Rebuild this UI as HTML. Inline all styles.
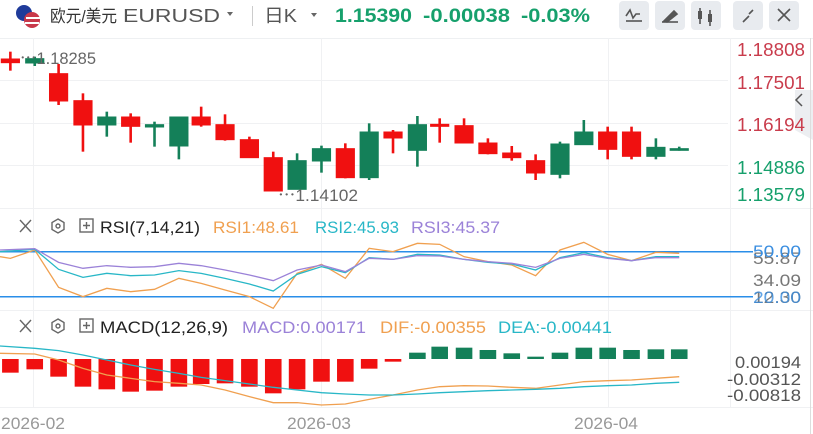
<!DOCTYPE html>
<html><head><meta charset="utf-8"><style>
body{margin:0;background:#fff;}
svg text{font-family:"Liberation Sans","Noto Sans CJK SC",sans-serif;}
</style></head><body>
<svg width="813" height="434" xmlns="http://www.w3.org/2000/svg" style="display:block">
<rect width="813" height="434" fill="#fff"/>
<!-- header -->
<circle cx="24" cy="13" r="8" fill="#1f3b9a"/>
<circle cx="32" cy="20" r="8" fill="#c8384a"/>
<rect x="26" y="17" width="14" height="2" fill="#fff"/><rect x="25" y="22" width="14" height="2" fill="#fff"/>
<text x="50" y="22" font-size="17" fill="#333" textLength="67" lengthAdjust="spacingAndGlyphs">欧元/美元</text>
<text x="123" y="22" font-size="18" fill="#555" textLength="97" lengthAdjust="spacingAndGlyphs">EURUSD</text>
<path d="M227 12 l6 0 l-3 4z" fill="#666"/>
<rect x="252" y="6" width="1" height="20" fill="#ccc"/>
<text x="264" y="22" font-size="18" fill="#555" textLength="33" lengthAdjust="spacingAndGlyphs">日K</text>
<path d="M311 13 l6 0 l-3 4z" fill="#666"/>
<text x="335" y="22" font-size="19" font-weight="bold" fill="#16a06c" textLength="77" lengthAdjust="spacingAndGlyphs">1.15390</text>
<text x="423" y="22" font-size="19" font-weight="bold" fill="#16a06c" textLength="87" lengthAdjust="spacingAndGlyphs">-0.00038</text>
<text x="521" y="22" font-size="19" font-weight="bold" fill="#16a06c" textLength="69" lengthAdjust="spacingAndGlyphs">-0.03%</text>
<g fill="#e8ebef">
<rect x="619" y="1" width="30" height="29" rx="4"/><rect x="655" y="1" width="30" height="29" rx="4"/><rect x="691" y="1" width="30" height="29" rx="4"/><rect x="733" y="1" width="30" height="29" rx="4"/><rect x="769" y="1" width="30" height="29" rx="4"/></g>
<g stroke="#555" stroke-width="1.6" fill="none">
<path d="M626 16 l4 -6 l3 8 l3 -4 l4 0"/><path d="M626 21 h16"/>
<path d="M664 21 l10 -10 l3 3 l-10 8z" fill="#555"/><path d="M662 22 h16"/>
<path d="M700 8 v16 M710 10 v16"/>
<path d="M743 22 l6 -6 M753 10 l-4 4"/>
<path d="M778 9 l12 12 M790 9 l-12 12"/></g>
<rect x="698" y="11" width="4" height="8" fill="#555"/><rect x="708" y="14" width="4" height="8" fill="#555"/>
<rect x="0" y="38" width="813" height="1" fill="#eef0f2"/>
<!-- grid -->
<g fill="#f0f1f3">
<rect x="0" y="80" width="728" height="1"/><rect x="0" y="123" width="728" height="1"/><rect x="0" y="165" width="728" height="1"/><rect x="0" y="208" width="813" height="1"/>
<rect x="33" y="38" width="1" height="370"/><rect x="321" y="38" width="1" height="370"/><rect x="608" y="38" width="1" height="370"/>
<rect x="0" y="310" width="813" height="1"/><rect x="0" y="407" width="813" height="1"/>
<rect x="730" y="38" width="1" height="370"/></g>
<path d="M813 90 l-18 0 l0 40 l18 10z" fill="#eceef1"/>
<path d="M802 94 l-6 6 l6 6" stroke="#555" stroke-width="1.5" fill="none"/>
<!-- price labels -->
<g font-size="18" fill="#c93c4c"><text x="737" y="56" textLength="68" lengthAdjust="spacingAndGlyphs">1.18808</text><text x="737" y="89" textLength="68" lengthAdjust="spacingAndGlyphs">1.17501</text><text x="737" y="131" textLength="68" lengthAdjust="spacingAndGlyphs">1.16194</text></g>
<g font-size="18" fill="#16a06c"><text x="737" y="174" textLength="68" lengthAdjust="spacingAndGlyphs">1.14886</text><text x="737" y="201" textLength="68" lengthAdjust="spacingAndGlyphs">1.13579</text></g>
<!-- candles -->
<g transform="scale(0.5185,0.33333)">
<g stroke="#f01010" stroke-width="5" fill="#f01010">
<line x1="20" y1="155" x2="20" y2="212"/><rect x="4" y="178" width="32" height="9"/>
<line x1="113" y1="192" x2="113" y2="315"/><rect x="97" y="222" width="32" height="80"/>
<line x1="160" y1="280" x2="160" y2="455"/><rect x="144" y="303" width="32" height="71"/>
<line x1="252" y1="340" x2="252" y2="428"/><rect x="236" y="352" width="32" height="26"/>
<line x1="388" y1="320" x2="388" y2="380"/><rect x="372" y="352" width="32" height="22"/>
<line x1="434" y1="343" x2="434" y2="422"/><rect x="418" y="375" width="32" height="43"/>
<line x1="481" y1="410" x2="481" y2="472"/><rect x="465" y="420" width="32" height="52"/>
<line x1="527" y1="455" x2="527" y2="572"/><rect x="511" y="474" width="32" height="98"/>
<line x1="666" y1="430" x2="666" y2="535"/><rect x="650" y="447" width="32" height="85"/>
<line x1="758" y1="390" x2="758" y2="460"/><rect x="742" y="397" width="32" height="16"/>
<line x1="848" y1="355" x2="848" y2="428"/><rect x="832" y="374" width="32" height="4"/>
<line x1="895" y1="355" x2="895" y2="428"/><rect x="879" y="378" width="32" height="50"/>
<line x1="941" y1="415" x2="941" y2="463"/><rect x="925" y="430" width="32" height="30"/>
<line x1="987" y1="438" x2="987" y2="482"/><rect x="971" y="460" width="32" height="12"/>
<line x1="1033" y1="463" x2="1033" y2="540"/><rect x="1017" y="483" width="32" height="35"/>
<line x1="1172" y1="380" x2="1172" y2="478"/><rect x="1156" y="397" width="32" height="50"/>
<line x1="1218" y1="380" x2="1218" y2="478"/><rect x="1202" y="397" width="32" height="71"/>
</g>
<g stroke="#148059" stroke-width="5" fill="#148059">
<line x1="67" y1="170" x2="67" y2="198"/><rect x="51" y="177" width="32" height="11"/>
<line x1="206" y1="335" x2="206" y2="410"/><rect x="190" y="352" width="32" height="22"/>
<line x1="298" y1="365" x2="298" y2="440"/><rect x="282" y="375" width="32" height="5"/>
<line x1="345" y1="352" x2="345" y2="478"/><rect x="329" y="352" width="32" height="85"/>
<line x1="573" y1="460" x2="573" y2="567"/><rect x="557" y="483" width="32" height="84"/>
<line x1="620" y1="437" x2="620" y2="518"/><rect x="604" y="447" width="32" height="35"/>
<line x1="712" y1="370" x2="712" y2="540"/><rect x="696" y="397" width="32" height="135"/>
<line x1="805" y1="348" x2="805" y2="500"/><rect x="789" y="375" width="32" height="75"/>
<line x1="1080" y1="425" x2="1080" y2="535"/><rect x="1064" y="433" width="32" height="89"/>
<line x1="1126" y1="360" x2="1126" y2="433"/><rect x="1110" y="397" width="32" height="36"/>
<line x1="1265" y1="415" x2="1265" y2="478"/><rect x="1249" y="443" width="32" height="25"/>
<line x1="1310" y1="440" x2="1310" y2="452"/><rect x="1294" y="447" width="32" height="3"/>
</g></g>
<text x="20" y="64" font-size="17" fill="#666" textLength="76" lengthAdjust="spacingAndGlyphs">⋯1.18285</text>
<text x="278" y="201" font-size="17" fill="#666" textLength="80" lengthAdjust="spacingAndGlyphs">⋯1.14102</text>
<!-- RSI header -->
<g stroke="#666" stroke-width="1.4" fill="none">
<path d="M20 220 l11 12 M31 220 l-11 12"/>
<path d="M58 219 l6 3.5 v7 l-6 3.5 l-6 -3.5 v-7z"/><circle cx="58" cy="226" r="2"/>
<rect x="80" y="219" width="13" height="13"/><path d="M86.5 222 v7 M83 225.5 h7"/>
<path d="M20 320 l11 12 M31 320 l-11 12"/>
<path d="M58 319 l6 3.5 v7 l-6 3.5 l-6 -3.5 v-7z"/><circle cx="58" cy="326" r="2"/>
<rect x="80" y="319" width="13" height="13"/><path d="M86.5 322 v7 M83 325.5 h7"/></g>
<g font-size="17" lengthAdjust="spacingAndGlyphs">
<text x="100" y="233" fill="#222" textLength="100" lengthAdjust="spacingAndGlyphs">RSI(7,14,21)</text>
<text x="213" y="233" fill="#f0a050" textLength="86" lengthAdjust="spacingAndGlyphs">RSI1:48.61</text>
<text x="315" y="233" fill="#28b7c7" textLength="84" lengthAdjust="spacingAndGlyphs">RSI2:45.93</text>
<text x="411" y="233" fill="#9b82d8" textLength="89" lengthAdjust="spacingAndGlyphs">RSI3:45.37</text>
<text x="100" y="333" fill="#222" textLength="128" lengthAdjust="spacingAndGlyphs">MACD(12,26,9)</text>
<text x="242" y="333" fill="#9b82d8" textLength="124" lengthAdjust="spacingAndGlyphs">MACD:0.00171</text>
<text x="380" y="333" fill="#f0a050" textLength="106" lengthAdjust="spacingAndGlyphs">DIF:-0.00355</text>
<text x="498" y="333" fill="#28b7c7" textLength="114" lengthAdjust="spacingAndGlyphs">DEA:-0.00441</text>
</g>
<rect x="0" y="251" width="753" height="1.5" fill="#2a8ee8"/>
<rect x="0" y="296" width="753" height="1.5" fill="#2a8ee8"/>
<g font-size="17"><text x="753" y="264" fill="#777" textLength="48" lengthAdjust="spacingAndGlyphs">55.87</text><text x="753" y="286" fill="#777" textLength="48" lengthAdjust="spacingAndGlyphs">34.09</text><text x="753" y="303" fill="#777" textLength="48" lengthAdjust="spacingAndGlyphs">12.30</text>
<text x="753" y="257" fill="#3a8ee0" textLength="48" lengthAdjust="spacingAndGlyphs">50.00</text><text x="753" y="303" fill="#3a8ee0" opacity="0.8" textLength="48" lengthAdjust="spacingAndGlyphs">20.00</text></g>
<!-- RSI + MACD lines -->
<g transform="translate(0,210) scale(0.5185,0.33333)" fill="none" stroke-width="1.3">
<polyline vector-effect="non-scaling-stroke" stroke="#f0a050" points="0,140 20,145 67,120 113,232 160,260 206,235 252,245 298,238 345,205 388,220 434,240 481,260 527,295 573,190 620,163 666,205 712,115 758,125 805,100 848,103 895,140 941,155 987,165 1033,197 1080,120 1126,97 1172,133 1218,152 1265,127 1310,130"/>
<polyline vector-effect="non-scaling-stroke" stroke="#28b7c7" points="0,125 67,118 113,178 160,202 206,190 252,197 298,195 345,182 388,190 434,205 481,222 527,243 573,193 620,170 666,188 712,143 758,148 805,133 848,135 895,148 941,157 987,162 1033,180 1080,143 1126,128 1172,143 1218,152 1265,140 1310,140"/>
<polyline vector-effect="non-scaling-stroke" stroke="#9b82d8" points="0,120 67,116 113,157 160,175 206,167 252,172 298,170 345,160 388,167 434,180 481,195 527,212 573,180 620,165 666,185 712,145 758,148 805,137 848,138 895,148 941,155 987,160 1033,172 1080,145 1126,133 1172,145 1218,152 1265,143 1310,143"/>
<g fill="#f01010" stroke="none">
<rect x="4" y="447" width="32" height="41"/><rect x="51" y="447" width="32" height="31"/><rect x="97" y="447" width="32" height="53"/><rect x="144" y="447" width="32" height="83"/><rect x="190" y="447" width="32" height="91"/><rect x="236" y="447" width="32" height="98"/><rect x="282" y="447" width="32" height="95"/><rect x="329" y="447" width="32" height="83"/><rect x="372" y="447" width="32" height="75"/><rect x="418" y="447" width="32" height="73"/><rect x="465" y="447" width="32" height="83"/><rect x="511" y="447" width="32" height="103"/><rect x="557" y="447" width="32" height="91"/><rect x="604" y="447" width="32" height="68"/><rect x="650" y="447" width="32" height="68"/><rect x="696" y="447" width="32" height="29"/><rect x="742" y="447" width="32" height="8"/></g>
<g fill="#148059" stroke="none">
<rect x="789" y="428" width="32" height="19"/><rect x="832" y="410" width="32" height="37"/><rect x="879" y="413" width="32" height="34"/><rect x="925" y="420" width="32" height="27"/><rect x="971" y="430" width="32" height="17"/><rect x="1017" y="440" width="32" height="7"/><rect x="1064" y="428" width="32" height="19"/><rect x="1110" y="413" width="32" height="34"/><rect x="1156" y="413" width="32" height="34"/><rect x="1202" y="420" width="32" height="27"/><rect x="1249" y="418" width="32" height="29"/><rect x="1294" y="418" width="32" height="29"/></g>
<polyline vector-effect="non-scaling-stroke" stroke="#f0a050" points="0,430 67,432 113,450 160,475 206,495 252,505 298,515 345,520 388,525 434,540 481,560 527,578 573,578 620,585 666,582 712,568 758,555 805,540 848,530 895,527 941,528 987,532 1033,535 1080,525 1126,515 1172,512 1218,510 1265,505 1310,500"/>
<polyline vector-effect="non-scaling-stroke" stroke="#28b7c7" points="0,408 67,415 113,422 160,435 206,450 252,465 298,478 345,490 388,502 434,512 481,522 527,532 573,540 620,548 666,552 712,555 758,555 805,552 848,548 895,545 941,542 987,540 1033,538 1080,535 1126,530 1172,527 1218,525 1265,520 1310,517"/>
</g>
<g font-size="17" fill="#555"><text x="735" y="368" textLength="66" lengthAdjust="spacingAndGlyphs">0.00194</text><text x="727" y="385" textLength="74" lengthAdjust="spacingAndGlyphs">-0.00312</text><text x="727" y="401" textLength="74" lengthAdjust="spacingAndGlyphs">-0.00818</text></g>
<g font-size="17" fill="#999"><text x="1" y="429" textLength="64" lengthAdjust="spacingAndGlyphs">2026-02</text><text x="287" y="429" textLength="64" lengthAdjust="spacingAndGlyphs">2026-03</text><text x="574" y="429" textLength="64" lengthAdjust="spacingAndGlyphs">2026-04</text></g>
<rect x="810" y="38" width="1" height="396" fill="#ddd"/>
</svg>
</body></html>
